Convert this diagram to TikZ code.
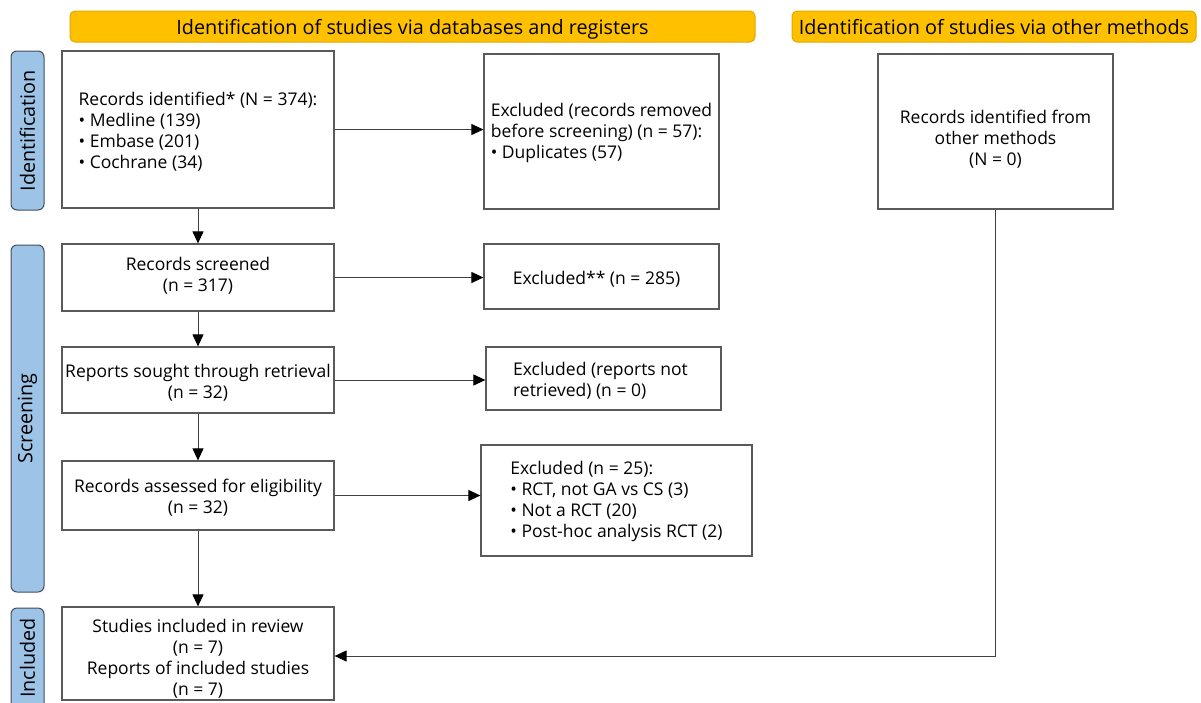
\documentclass[tikz,border=0pt]{standalone}
\usepackage{fontspec}
\setmainfont{Open Sans}
\usetikzlibrary{arrows.meta}
\definecolor{hdr}{HTML}{FFC000}
\definecolor{hdrline}{HTML}{E0A800}
\definecolor{bar}{HTML}{9DC3E6}
\definecolor{barline}{HTML}{3F4F60}
\definecolor{boxline}{HTML}{5A5A5A}
\tikzset{
  every node/.style={font=\fontsize{17.5}{21}\selectfont, inner sep=0pt},
  box/.style={draw=boxline, line width=1.2pt, fill=white},
  header/.style={draw=hdrline, fill=hdr, line width=1pt, rounded corners=5pt, font=\fontsize{19.8}{21}\selectfont, text height=17pt, text depth=1.6pt},
  sidebar/.style={draw=barline, fill=bar, line width=1pt, rounded corners=6pt, minimum width=33pt},
  sidelabel/.style={rotate=90, font=\fontsize{19.8}{21}\selectfont},
  conn/.style={draw=black!75, line width=1pt},
  arr/.style={conn, -{Triangle[length=12pt,width=11pt,black]}}
}
\begin{document}
\begin{tikzpicture}[x=1pt,y=-1pt]
\useasboundingbox (0,0) rectangle (1201,702);
\clip (0,0) rectangle (1201,702);
% headers
\node[header, minimum width=685pt, minimum height=31pt] (h1) at (412.5,26.5) {Identification of studies via databases and registers};
\node[header, minimum width=404pt, minimum height=31pt] (h2) at (994,26.5) {Identification of studies via other methods};
% side bars
\node[sidebar, minimum height=159pt] (sid) at (27.5,130.5) {};
\node[sidelabel] (sidt) at (sid.center) {Identification};
\node[sidebar, minimum height=347pt] (sscr) at (27.5,418.5) {};
\node[sidelabel] (sscrt) at (sscr.center) {Screening};
\node[sidebar, minimum height=112pt] (sinc) at (27.5,664) {};
\node[sidelabel] (sinct) at (27.5,658) {Included};
% boxes
\node[box, minimum width=272pt, minimum height=157pt] (b1) at (198,129.5) {};
\node[align=left] (b1t) at ([yshift=-2pt]b1.center)
  {Records identified* (N = 374):\\ • Medline (139)\\ • Embase (201)\\ • Cochrane (34)};
\node[box, minimum width=235pt, minimum height=155pt] (b2) at (601.5,131.5) {};
\node[align=left] (b2t) at ([yshift=-1pt]b2.center)
  {Excluded (records removed\\ before screening) (n = 57):\\ • Duplicates (57)};
\node[box, minimum width=235pt, minimum height=155pt] (b3) at (995.5,131.5) {};
\node[align=center] (b3t) at ([yshift=-8pt]b3.center)
  {Records identified from\\ other methods\\ (N = 0)};
\node[box, minimum width=272pt, minimum height=67pt] (b4) at (198,277.5) {};
\node[align=center] (b4t) at ([yshift=2pt]b4.center)
  {Records screened\\ (n = 317)};
\node[box, minimum width=235pt, minimum height=65pt] (b5) at (601.5,276.5) {};
\node[align=center] (b5t) at ([xshift=-5pt,yshift=-3pt]b5.center)
  {Excluded** (n = 285)};
\node[box, minimum width=272pt, minimum height=66pt] (b6) at (198,380) {};
\node[align=center] (b6t) at ([yshift=-3pt]b6.center)
  {Reports sought through retrieval\\ (n = 32)};
\node[box, minimum width=235pt, minimum height=63pt] (b7) at (603.5,378.5) {};
\node[align=left] (b7t) at ([xshift=-3pt,yshift=-2pt]b7.center)
  {Excluded (reports not\\ retrieved) (n = 0)};
\node[box, minimum width=272pt, minimum height=69pt] (b8) at (198,495.5) {};
\node[align=center] (b8t) at ([yshift=-2pt]b8.center)
  {Records assessed for eligibility\\ (n = 32)};
\node[box, minimum width=271pt, minimum height=111pt] (b9) at (616.5,500.5) {};
\node[align=left] (b9t) at ([yshift=-1pt]b9.center)
  {Excluded (n = 25):\\ • RCT, not GA vs CS (3)\\ • Not a RCT (20)\\ • Post-hoc analysis RCT (2)};
\node[box, minimum width=272pt, minimum height=93pt] (b10) at (198,653.5) {};
\node[align=center] (b10t) at ([yshift=-5.5pt]b10.center)
  {Studies included in review\\ (n = 7)\\ Reports of included studies\\ (n = 7)};
% connectors
\draw[arr] (b1.south) -- (b4.north);
\draw[arr] (b4.south) -- (b6.north);
\draw[arr] (b6.south) -- (b8.north);
\draw[arr] (b8.south) -- (b10.north);
\draw[arr] (b1.east) -- (b1.east -| b2.west);
\draw[arr] (b4.east) -- (b4.east -| b5.west);
\draw[arr] (b6.east) -- (b6.east -| b7.west);
\draw[arr] (b8.east) -- (b8.east -| b9.west);
\draw[arr] (b3.south) |- ([yshift=-2.5pt]b10.east);
\end{tikzpicture}
\end{document}
